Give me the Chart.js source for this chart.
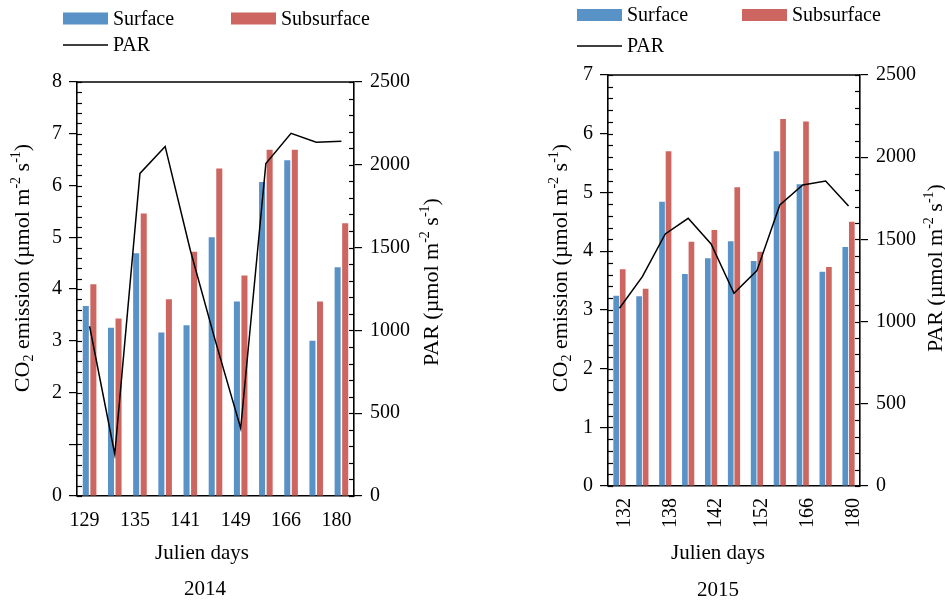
<!DOCTYPE html>
<html>
<head>
<meta charset="utf-8">
<script src="https://cdn.jsdelivr.net/npm/chart.js@4.4.1/dist/chart.umd.min.js"></script>
<style>
  body { margin: 0; background: #fff; width: 945px; height: 601px; position: relative; overflow: hidden; }
  canvas { position: absolute; top: 0; }
  #c2014 { left: 0; }
  #c2015 { left: 472px; }
</style>
</head>
<body>
<canvas id="c2014" width="472" height="601"></canvas>
<canvas id="c2015" width="473" height="601"></canvas>
<script>
// 2014 panel
const days2014 = ['129', '', '135', '', '141', '', '149', '', '166', '', '180'];
const surface2014 = [3.67, 3.25, 4.69, 3.16, 3.30, 5.00, 3.76, 6.07, 6.49, 3.00, 4.42];
const subsurface2014 = [4.09, 3.43, 5.46, 3.80, 4.72, 6.33, 4.26, 6.69, 6.69, 3.76, 5.27];
const par2014 = [1025, 252, 1948, 2111, 1484, 934, 409, 2008, 2190, 2136, 2142];

// 2015 panel
const days2015 = ['132', '', '138', '', '142', '', '152', '', '166', '', '180'];
const surface2015 = [3.24, 3.23, 4.84, 3.61, 3.88, 4.17, 3.83, 5.70, 5.14, 3.65, 4.07];
const subsurface2015 = [3.69, 3.36, 5.70, 4.16, 4.36, 5.09, 3.99, 6.25, 6.21, 3.73, 4.50];
const par2015 = [1081, 1273, 1533, 1628, 1472, 1172, 1310, 1709, 1831, 1855, 1703];

const FONT = '"Liberation Serif", "Times New Roman", serif';
const BLUE = '#5892c7';
const RED = '#cd6660';

const co2Title = [{t: 'CO'}, {t: '2', sub: true}, {t: ' emission (µmol m'}, {t: '-2', sup: true}, {t: ' s'}, {t: '-1', sup: true}, {t: ')'}];
const parTitle = [{t: 'PAR (µmol m'}, {t: '-2', sup: true}, {t: ' s'}, {t: '-1', sup: true}, {t: ')'}];

function richText(ctx, parts, x, y, rot, size) {
  ctx.save();
  ctx.translate(x, y);
  ctx.rotate(rot);
  ctx.fillStyle = '#000';
  ctx.textBaseline = 'middle';
  ctx.textAlign = 'left';
  const fontFor = p => ((p.sub || p.sup) ? Math.round(size * 0.65) : size) + 'px ' + FONT;
  let w = 0;
  parts.forEach(p => { ctx.font = fontFor(p); w += ctx.measureText(p.t).width; });
  let cx = -w / 2;
  parts.forEach(p => {
    ctx.font = fontFor(p);
    const dy = p.sub ? size * 0.3 : p.sup ? -size * 0.32 : 0;
    ctx.fillText(p.t, cx, dy);
    cx += ctx.measureText(p.t).width;
  });
  ctx.restore();
}

// minor ticks on the inside of both y axes + top frame line
const frameTicks = {
  id: 'frameTicks',
  afterDatasetsDraw(chart, args, opts) {
    const ctx = chart.ctx, a = chart.chartArea;
    ctx.save();
    ctx.strokeStyle = '#000';
    ctx.lineWidth = 1.6;
    ctx.beginPath();
    ctx.moveTo(a.left, a.top);
    ctx.lineTo(a.right, a.top);
    ctx.stroke();
    ctx.lineWidth = 1.2;
    ['y', 'y1'].forEach(id => {
      const s = chart.scales[id];
      const step = opts[id];
      const left = s.position === 'left';
      const x0 = left ? a.left : a.right;
      const n = Math.round((s.max - s.min) / step);
      for (let i = 0; i <= n; i++) {
        const py = Math.round(s.getPixelForValue(s.min + i * step)) + 0.5;
        ctx.beginPath();
        ctx.moveTo(x0, py);
        ctx.lineTo(x0 + (left ? 5 : -5), py);
        ctx.stroke();
      }
    });
    ctx.restore();
  }
};

// legend and axis titles drawn as text on the canvas
const labelsPlugin = {
  id: 'labelsPlugin',
  afterDraw(chart, args, opts) {
    const ctx = chart.ctx;
    ctx.save();
    opts.legend.forEach(item => {
      const ds = chart.data.datasets[item.ds];
      if (ds.type === 'line') {
        ctx.strokeStyle = ds.borderColor;
        ctx.lineWidth = 1.5;
        ctx.beginPath();
        ctx.moveTo(item.x, item.y);
        ctx.lineTo(item.x + 45, item.y);
        ctx.stroke();
      } else {
        ctx.fillStyle = ds.backgroundColor;
        ctx.fillRect(item.x, item.y - 6, 45, 12);
      }
      ctx.fillStyle = '#000';
      ctx.font = '20px ' + FONT;
      ctx.textBaseline = 'middle';
      ctx.textAlign = 'left';
      ctx.fillText(ds.label, item.x + 50, item.y + 1);
    });
    ctx.restore();
    opts.titles.forEach(t => richText(ctx, t.parts, t.x, t.y, t.rot, t.size));
  }
};

function makeChart(id, cfg) {
  return new Chart(document.getElementById(id), {
    data: {
      labels: cfg.labels,
      datasets: [
        {type: 'line', label: 'PAR', data: cfg.par, yAxisID: 'y1', borderColor: '#000', borderWidth: 1.5,
         pointRadius: 0, tension: 0, order: 0},
        {type: 'bar', label: 'Surface', data: cfg.surface, yAxisID: 'y', backgroundColor: BLUE,
         categoryPercentage: cfg.catPct, barPercentage: cfg.barPct, order: 1},
        {type: 'bar', label: 'Subsurface', data: cfg.subsurface, yAxisID: 'y', backgroundColor: RED,
         categoryPercentage: cfg.catPct, barPercentage: cfg.barPct, order: 1}
      ]
    },
    options: {
      responsive: false,
      animation: false,
      layout: {padding: {top: cfg.top, left: 0, right: 0, bottom: 0}},
      plugins: {
        legend: {display: false},
        tooltip: {enabled: false},
        frameTicks: {y: 0.2, y1: 100},
        labelsPlugin: {legend: cfg.legend, titles: cfg.titles}
      },
      scales: {
        x: {
          afterFit: s => { s.height = cfg.xHeight; },
          grid: {display: true, drawOnChartArea: false, drawTicks: false},
          border: {display: true, color: '#000', width: 1.6},
          ticks: {color: '#000', font: {family: FONT, size: 20}, autoSkip: false,
                  minRotation: cfg.rotation, maxRotation: cfg.rotation,
                  padding: cfg.xPad, labelOffset: cfg.labelOffset}
        },
        y: {
          position: 'left',
          min: 0, max: cfg.yMax,
          afterFit: s => { s.width = cfg.leftW; },
          grid: {drawOnChartArea: false, tickLength: 8, color: '#000', lineWidth: 1.2},
          border: {display: true, color: '#000', width: 1.6},
          ticks: {stepSize: 1, color: '#000', font: {family: FONT, size: 20}, padding: 7,
                  callback: v => cfg.hideY.includes(v) ? '' : String(v)}
        },
        y1: {
          position: 'right',
          min: 0, max: 2500,
          afterFit: s => { s.width = cfg.rightW; },
          grid: {drawOnChartArea: false, tickLength: 8, color: '#000', lineWidth: 1.2},
          border: {display: true, color: '#000', width: 1.6},
          ticks: {stepSize: 500, color: '#000', font: {family: FONT, size: 20}, padding: 8,
                  callback: v => String(v)}
        }
      }
    },
    plugins: [frameTicks, labelsPlugin]
  });
}

makeChart('c2014', {
  labels: days2014, surface: surface2014, subsurface: subsurface2014, par: par2014,
  yMax: 8, hideY: [1], top: 82, leftW: 77, rightW: 118, xHeight: 105,
  rotation: 0, xPad: 13, labelOffset: -5, catPct: 0.6, barPct: 0.8,
  legend: [{ds: 1, x: 63, y: 18.5}, {ds: 2, x: 231, y: 18.5}, {ds: 0, x: 63, y: 45}],
  titles: [
    {parts: co2Title, x: 23, y: 268, rot: -Math.PI / 2, size: 22},
    {parts: parTitle, x: 432, y: 282, rot: -Math.PI / 2, size: 22},
    {parts: [{t: 'Julien days'}], x: 202, y: 553, rot: 0, size: 21},
    {parts: [{t: '2014'}], x: 205, y: 589, rot: 0, size: 21}
  ]
});

makeChart('c2015', {
  labels: days2015, surface: surface2015, subsurface: subsurface2015, par: par2015,
  yMax: 7, hideY: [], top: 75, leftW: 136, rightW: 85, xHeight: 115,
  rotation: 90, xPad: 12, labelOffset: 5, catPct: 0.57, barPct: 0.87,
  legend: [{ds: 1, x: 105, y: 15}, {ds: 2, x: 270, y: 15}, {ds: 0, x: 105, y: 46}],
  titles: [
    {parts: co2Title, x: 89, y: 268, rot: -Math.PI / 2, size: 22},
    {parts: parTitle, x: 464, y: 268, rot: -Math.PI / 2, size: 22},
    {parts: [{t: 'Julien days'}], x: 246, y: 553, rot: 0, size: 21},
    {parts: [{t: '2015'}], x: 246, y: 590, rot: 0, size: 21}
  ]
});
</script>
</body>
</html>
